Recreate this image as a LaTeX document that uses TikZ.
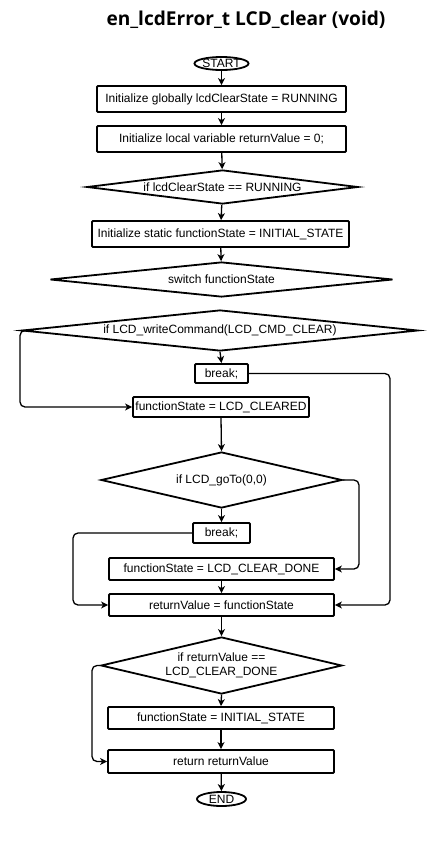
\documentclass[tikz,border=0pt]{standalone}
\usepackage{fontspec}
\setmainfont{Liberation Sans}
\newfontfamily\titlefont{Open Sans}
\usetikzlibrary{shapes.geometric,arrows.meta}
\tikzset{
  base/.style={draw=black, line width=1.8pt, inner sep=0pt, font=\fontsize{12}{14}\selectfont, text=black},
  box/.style={base, rectangle, rounded corners=1pt},
  dia/.style={base, diamond},
  term/.style={base, ellipse},
  conn/.style={line width=1.3pt, -{Stealth[length=7pt,width=7pt,inset=2pt]}},
  loop/.style={conn, rounded corners=5pt},
}
\begin{document}
\begin{tikzpicture}[x=1pt,y=-1pt]
\useasboundingbox (0,0) rectangle (438,849);
\node[font=\titlefont\bfseries\fontsize{19.1}{22}\selectfont] (title) at (246,20) {en\_lcdError\_t LCD\_clear (void)};
\node[term, minimum width=50pt, minimum height=13pt] (start) at (221.5,63.5) {START};
\node[box, minimum width=249pt, minimum height=26pt] (b1) at (221.5,99) {Initialize globally lcdClearState = RUNNING};
\node[box, minimum width=249pt, minimum height=26pt] (b2) at (221.5,139) {Initialize local variable returnValue = 0;};
\node[dia, minimum width=271pt, minimum height=34pt, shape aspect=8] (d1) at (222.5,187) {if lcdClearState == RUNNING};
\node[box, minimum width=257pt, minimum height=26pt] (b3) at (220.5,234) {Initialize static functionState = INITIAL\_STATE};
\node[dia, minimum width=343pt, minimum height=35pt, shape aspect=9.8] (d2) at (221.5,279.5) {switch functionState};
\node[dia, minimum width=396pt, minimum height=41pt, shape aspect=9.66] (d3) at (220,330.5) {if LCD\_writeCommand(LCD\_CMD\_CLEAR)};
\node[box, minimum width=53pt, minimum height=19pt] (br1) at (221.5,373.5) {break;};
\node[box, minimum width=176pt, minimum height=20pt] (cl) at (221,407) {functionState = LCD\_CLEARED};
\node[dia, minimum width=241pt, minimum height=56pt, shape aspect=4.3] (d4) at (221.5,480) {if LCD\_goTo(0,0)};
\node[box, minimum width=57pt, minimum height=20pt] (br2) at (221.5,533) {break;};
\node[box, minimum width=225pt, minimum height=22pt] (done) at (221.5,569) {functionState = LCD\_CLEAR\_DONE};
\node[box, minimum width=225pt, minimum height=22pt] (rv) at (221.5,605) {returnValue = functionState};
\node[dia, minimum width=241pt, minimum height=57pt, shape aspect=4.2, align=center] (d5) at (221.5,665.5) {if returnValue ==\\LCD\_CLEAR\_DONE};
\node[box, minimum width=226pt, minimum height=22pt] (init) at (221,718) {functionState = INITIAL\_STATE};
\node[box, minimum width=226pt, minimum height=23pt] (ret) at (221,761.5) {return returnValue};
\node[term, minimum width=49pt, minimum height=14pt] (end) at (221.5,799) {END};

\coordinate (xl1) at (20,0);
\coordinate (xr1) at (390,0);
\coordinate (xr2) at (359,0);
\coordinate (xl2) at (73,0);
\coordinate (xl3) at (92,0);

\draw[conn] (start) -- (b1);
\draw[conn] (b1) -- (b2);
\draw[conn] (b2) -- (d1);
\draw[conn] (d1) -- (b3);
\draw[conn] (b3) -- (d2);
\draw[conn] (d3.south) -- (br1.north);
\draw[conn] (cl.south) -- (d4.north);
\draw[conn] (d4.south) -- (br2.north);
\draw[conn] (done) -- (rv);
\draw[conn] (rv.south) -- (d5.north);
\draw[conn] (d5.south) -- (init.north);
\draw[conn] (init) -- (ret);
\draw[conn] (ret) -- (end);

\draw[loop] (d3.west) -- (d3.west -| xl1) -- (cl.west -| xl1) -- (cl.west);
\draw[loop] (br1.east) -- (br1.east -| xr1) -- (rv.east -| xr1) -- (rv.east);
\draw[loop] (d4.east) -- (d4.east -| xr2) -- (done.east -| xr2) -- (done.east);
\draw[loop] (br2.west) -- (br2.west -| xl2) -- (rv.west -| xl2) -- (rv.west);
\draw[loop] (d5.west) -- (d5.west -| xl3) -- (ret.west -| xl3) -- (ret.west);
\end{tikzpicture}
\end{document}
